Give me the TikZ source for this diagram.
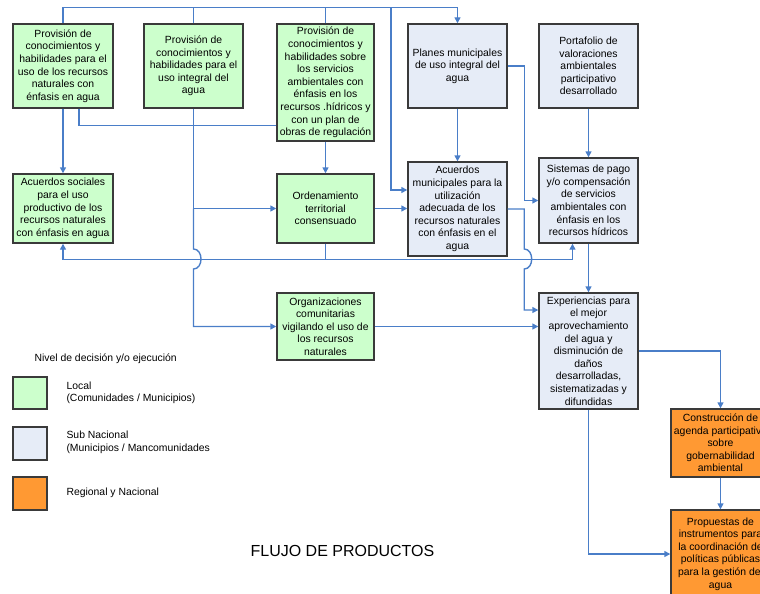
\documentclass[tikz,border=0pt]{standalone}
\usepackage{fontspec}
\setmainfont{Liberation Sans}
\usetikzlibrary{calc,arrows.meta}
\definecolor{local}{HTML}{CCFFCC}
\definecolor{subnac}{HTML}{E6ECF7}
\definecolor{regnac}{HTML}{FF9933}
\definecolor{flujo}{HTML}{4A7EC8}
\definecolor{borde}{HTML}{3A3A3A}

\begin{document}
\begin{tikzpicture}[x=1pt,y=-1pt,
    caja/.style={draw=borde,line width=1.4pt,align=center,inner sep=1pt,
      font=\fontsize{10.4}{12.6}\selectfont},
    loc/.style={caja,fill=local},
    sub/.style={caja,fill=subnac},
    reg/.style={caja,fill=regnac},
    linea/.style={draw=flujo,line width=1.4pt},
    flecha/.style={linea,-{Triangle[length=6pt,width=6pt]}},
    leyenda/.style={anchor=west,align=left,font=\fontsize{10.4}{12.6}\selectfont}]
  \clip (0,0) rectangle (760,594);

  \node[loc,minimum width=100pt,minimum height=84pt] (pc1) at (63,66)
    {Provisión de\\conocimientos y\\habilidades para el\\uso de los recursos\\naturales con\\énfasis en agua};
  \node[loc,minimum width=99pt,minimum height=84pt] (pc2) at (193.5,66)
    {Provisión de\\conocimientos y\\habilidades para el\\uso integral del\\agua};
  \node[loc,minimum width=97pt,minimum height=117pt] (pc3) at (325.5,82.5)
    {Provisión de\\conocimientos y\\habilidades sobre\\los servicios\\ambientales con\\énfasis en los\\recursos .hídricos y\\con un plan de\\obras de regulación};
  \node[sub,minimum width=99pt,minimum height=84pt] (planes) at (457.5,66)
    {Planes municipales\\de uso integral del\\agua};
  \node[sub,minimum width=99pt,minimum height=84pt] (portafolio) at (588.5,66)
    {Portafolio de\\valoraciones\\ambientales\\participativo\\desarrollado};

  \node[loc,minimum width=100pt,minimum height=69pt] (acsoc) at (63,208.5)
    {Acuerdos sociales\\para el uso\\productivo de los\\recursos naturales\\con énfasis en agua};
  \node[loc,minimum width=97pt,minimum height=69pt] (orden) at (325.5,208.5)
    {Ordenamiento\\territorial\\consensuado};
  \node[sub,minimum width=99pt,minimum height=94pt] (acmun) at (457.5,209)
    {Acuerdos\\municipales para la\\utilización\\adecuada de los\\recursos naturales\\con énfasis en el\\agua};
  \node[sub,minimum width=99pt,minimum height=85pt] (sist) at (588.5,200.5)
    {Sistemas de pago\\y/o compensación\\de servicios\\ambientales con\\énfasis en los\\recursos hídricos};

  \node[loc,minimum width=97pt,minimum height=67pt] (orgc) at (325.5,326.5)
    {Organizaciones\\comunitarias\\vigilando el uso de\\los recursos\\naturales};
  \node[sub,minimum width=99pt,minimum height=116pt] (exper) at (588.5,351)
    {Experiencias para\\el mejor\\aprovechamiento\\del agua y\\disminución de\\daños\\desarrolladas,\\sistematizadas y\\difundidas};
  \node[reg,minimum width=99pt,minimum height=68pt] (constr) at (720.5,443)
    {Construcción de\\agenda participativa\\sobre\\gobernabilidad\\ambiental};
  \node[reg,minimum width=99pt,minimum height=88pt] (prop) at (720.5,554)
    {Propuestas de\\instrumentos para\\la coordinación de\\políticas públicas\\para la gestión del\\agua};

  \coordinate (tj) at (391,8);
  \draw[flecha] (pc1.north) |- ($(planes.north)+(0,-16)$) -- (planes.north);
  \draw[linea] (pc2.north) -- ++(0,-16);
  \draw[linea] (pc3.north) -- ++(0,-16);
  \draw[flecha] (tj) |- ($(acmun.west)+(0,-19)$);

  \draw[flecha] (pc1.south) -- (acsoc.north);
  \draw[linea] ($(pc1.south)+(16,0)$) |- ($(pc3.south west)+(0,-16)$);
  \draw[flecha] (pc2.south) |- (orden.west);
  \draw[flecha] (pc2.south |- orden.west) -- ++(0,40.5)
    .. controls +(10,0) and +(10,0) .. ++(0,20) |- (orgc.west);
  \draw[flecha] (pc3.south) -- (orden.north);
  \draw[flecha] (orden.east) -- (orden.east -| acmun.west);

  \draw[flecha] (orden.south) -- ++(0,16) -| (acsoc.south);
  \draw[flecha] ($(orden.south)+(0,16)$) -| ($(sist.south)+(-16,0)$);

  \draw[flecha] (planes.south) -- (acmun.north);
  \draw[flecha] (planes.east) -- ++(16.5,0) |- (sist.west);
  \draw[flecha] (acmun.east) -- ++(16.5,0) -- ++(0,40)
    .. controls +(10,0) and +(10,0) .. ++(0,20) |- ($(exper.west)+(0,-41)$);
  \draw[flecha] (portafolio.south) -- (sist.north);
  \draw[flecha] (sist.south) -- (exper.north);
  \draw[flecha] (orgc.east) -- (orgc.east -| exper.west);
  \draw[flecha] (exper.east) -| (constr.north);
  \draw[flecha] (constr.south) -- (prop.north);
  \draw[flecha] (exper.south) |- (prop.west);

  \node[leyenda] (nivel) at (31,359) {Nivel de decisión y/o ejecución};
  \node[loc,minimum width=34pt,minimum height=32pt] (cloc) at (30,393) {};
  \node[sub,minimum width=34pt,minimum height=33pt] (csub) at (30,443.5) {};
  \node[reg,minimum width=34pt,minimum height=33pt] (creg) at (30,493.5) {};
  \node[leyenda] (tloc) at (63,393) {Local\\(Comunidades / Municipios)};
  \node[leyenda] (tsub) at (63,442.5) {Sub Nacional\\(Municipios / Mancomunidades};
  \node[leyenda] (treg) at (63,493) {Regional y Nacional};

  \node[font=\fontsize{16}{19}\selectfont] (titulo) at (342.5,551) {FLUJO DE PRODUCTOS};
\end{tikzpicture}
\end{document}
